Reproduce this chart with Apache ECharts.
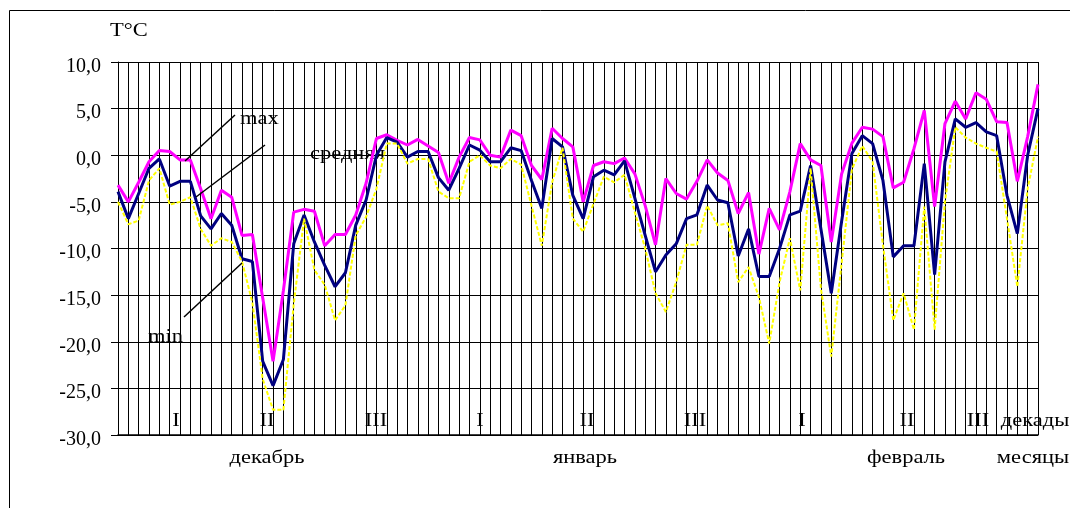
<!DOCTYPE html>
<html>
<head>
<meta charset="utf-8">
<script src="https://cdn.jsdelivr.net/npm/echarts@6/dist/echarts.min.js"></script>
<style>
  html, body { margin: 0; padding: 0; background: #fff; }
  #chart { width: 1070px; height: 508px; }
</style>
</head>
<body>
<div id="chart"></div>
<script>
// дни: декабрь 31, январь 31, февраль 28
var days = [];
for (var d = 1; d <= 31; d++) days.push(d + '.12');
for (var d = 1; d <= 31; d++) days.push(d + '.01');
for (var d = 1; d <= 28; d++) days.push(d + '.02');

var tMax = [
  -3.2, -5.0, -2.9, -0.7, 0.5, 0.4, -0.5, -0.5, -3.6, -6.8,
  -3.75, -4.5, -8.6, -8.5, -15.3, -22.1, -14.5, -6.1, -5.8, -6.0,
  -9.7, -8.5, -8.5, -6.4, -3.0, 1.8, 2.2, 1.6, 1.1, 1.7,
  1.0, 0.3, -3.0, -0.2, 1.9, 1.65, 0.0, -0.2, 2.7, 2.1,
  -1.1, -2.6, 2.9, 1.8, 0.9, -5.0, -1.1, -0.7, -0.9, -0.3,
  -2.0, -5.4, -9.6, -2.5, -4.1, -4.7, -2.8, -0.5, -1.9, -2.7,
  -6.25, -4.0, -10.6, -5.7, -8.0, -3.9, 1.25, -0.5, -1.1, -9.3,
  -2.0, 1.3, 3.0, 2.8, 2.0, -3.5, -2.9, 0.7, 4.8, -5.5,
  3.4, 5.8, 3.9, 6.7, 6.0, 3.6, 3.5, -2.8, 2.0, 7.6
];
var tAvg = [
  -3.9, -6.8, -4.1, -1.4, -0.4, -3.3, -2.8, -2.8, -6.5, -7.9,
  -6.25, -7.5, -11.1, -11.4, -22.1, -24.7, -21.9, -9.5, -6.4, -9.3,
  -11.8, -14.1, -12.6, -7.5, -4.8, 0.0, 1.9, 1.4, -0.2, 0.4,
  0.4, -2.4, -3.75, -1.4, 1.1, 0.55, -0.7, -0.7, 0.8, 0.5,
  -2.7, -5.7, 1.8, 0.9, -4.3, -6.8, -2.3, -1.6, -2.1, -0.6,
  -4.6, -8.6, -12.5, -10.7, -9.5, -6.8, -6.4, -3.2, -4.8, -5.1,
  -10.8, -7.9, -13.0, -13.0, -10.0, -6.4, -6.0, -1.1, -7.9, -14.8,
  -7.1, 0.2, 2.1, 1.25, -2.7, -10.9, -9.7, -9.7, -0.9, -12.8,
  -0.7, 3.9, 3.0, 3.5, 2.5, 2.1, -4.3, -8.4, 0.0, 5.0
];
var tMin = [
  -5.0, -7.4, -7.0, -2.7, -1.4, -5.3, -5.0, -4.5, -7.9, -9.7,
  -8.9, -9.3, -11.4, -15.8, -24.0, -27.3, -27.3, -16.0, -6.8, -12.3,
  -13.9, -17.7, -16.1, -8.6, -6.6, -3.6, 1.25, 1.25, -0.9, -0.4,
  -0.4, -3.9, -4.6, -4.6, -0.7, 0.0, -1.1, -1.4, -0.4, -1.0,
  -5.4, -9.7, -2.9, 0.8, -6.8, -8.2, -5.2, -2.3, -2.9, -2.1,
  -6.1, -10.0, -14.8, -16.8, -13.6, -9.6, -9.6, -5.4, -7.5, -7.3,
  -13.6, -12.0, -15.2, -20.2, -13.6, -8.9, -14.5, -1.4, -14.3, -21.6,
  -11.6, -1.5, 1.0, -0.7, -9.6, -17.7, -14.8, -18.7, -5.5, -18.7,
  -5.0, 3.0, 1.9, 1.25, 0.8, 0.4, -6.8, -14.1, -3.6, 2.0
];

var decades = ['I', 'II', 'III', 'I', 'II', 'III', 'I', 'II', 'III'];
var months = ['декабрь', 'январь', 'февраль'];

var serif = 'Liberation Serif';
var chart = echarts.init(document.getElementById('chart'));

// текст растянут по горизонтали, как в исходной картинке
function label(t, x, y, align) {
  return { type: 'text', x: x, y: y, scaleX: 1.25,
    style: { text: t, font: '18px ' + serif, fill: '#000', align: align || 'center', verticalAlign: 'middle' } };
}

var decadeX = [176, 267, 376, 480, 587, 695, 802, 907, 978];
var monthX = [267, 585, 906];
var texts = [];
decades.forEach(function (t, i) { texts.push(label(t, decadeX[i], 421)); });
months.forEach(function (t, i) { texts.push(label(t, monthX[i], 458)); });
texts.push(label('декады', 1035, 421));
texts.push(label('месяцы', 1033, 458));
texts.push(label('T°C', 110, 31, 'left'));
texts.push(label('max', 240, 119, 'left'));
texts.push(label('средняя', 310, 154, 'left'));
texts.push(label('min', 148, 337, 'left'));
// выноски
[[185, 161, 235, 115], [196, 197, 265, 145], [184, 317, 242, 263]].forEach(function (l) {
  texts.push({ type: 'line', shape: { x1: l[0], y1: l[1], x2: l[2], y2: l[3] },
    style: { stroke: '#000', lineWidth: 1.5 }, z: 10 });
});
// рамка
texts.push({ type: 'rect', shape: { x: 9.5, y: 10.5, width: 1080, height: 520 },
  style: { fill: 'none', stroke: '#000', lineWidth: 1 }, z: -1 });

chart.setOption({
  animation: false,
  backgroundColor: '#fff',
  grid: { left: 118, top: 62, width: 920, height: 373 },
  xAxis: {
    type: 'category',
    data: days,
    boundaryGap: false,
    axisLine: { show: true, onZero: false, lineStyle: { color: '#000', width: 1.5 } },
    axisTick: { show: false },
    axisLabel: { show: false },
    splitLine: { show: true, interval: 0, lineStyle: { color: '#000', width: 1 } }
  },
  yAxis: {
    type: 'value',
    min: -30, max: 10, interval: 5,
    axisLine: { show: true, lineStyle: { color: '#000', width: 1 } },
    axisTick: { show: true, inside: false, length: 7, lineStyle: { color: '#000' } },
    axisLabel: {
      margin: 17,
      color: '#000',
      fontFamily: serif,
      fontSize: 20,
      verticalAlign: 'top',
      lineHeight: 9,
      formatter: function (v) { return v.toFixed(1).replace('.', ','); }
    },
    splitLine: { show: true, lineStyle: { color: '#000', width: 1 } }
  },
  series: [
    { name: 'max', type: 'line', data: tMax, symbol: 'none',
      lineStyle: { color: '#ff00ff', width: 3 } },
    { name: 'средняя', type: 'line', data: tAvg, symbol: 'none',
      lineStyle: { color: '#000080', width: 3 } },
    { name: 'min', type: 'line', data: tMin, symbol: 'none',
      lineStyle: { color: '#ffff00', width: 2, type: [4, 2] } }
  ],
  graphic: texts
});
</script>
</body>
</html>
